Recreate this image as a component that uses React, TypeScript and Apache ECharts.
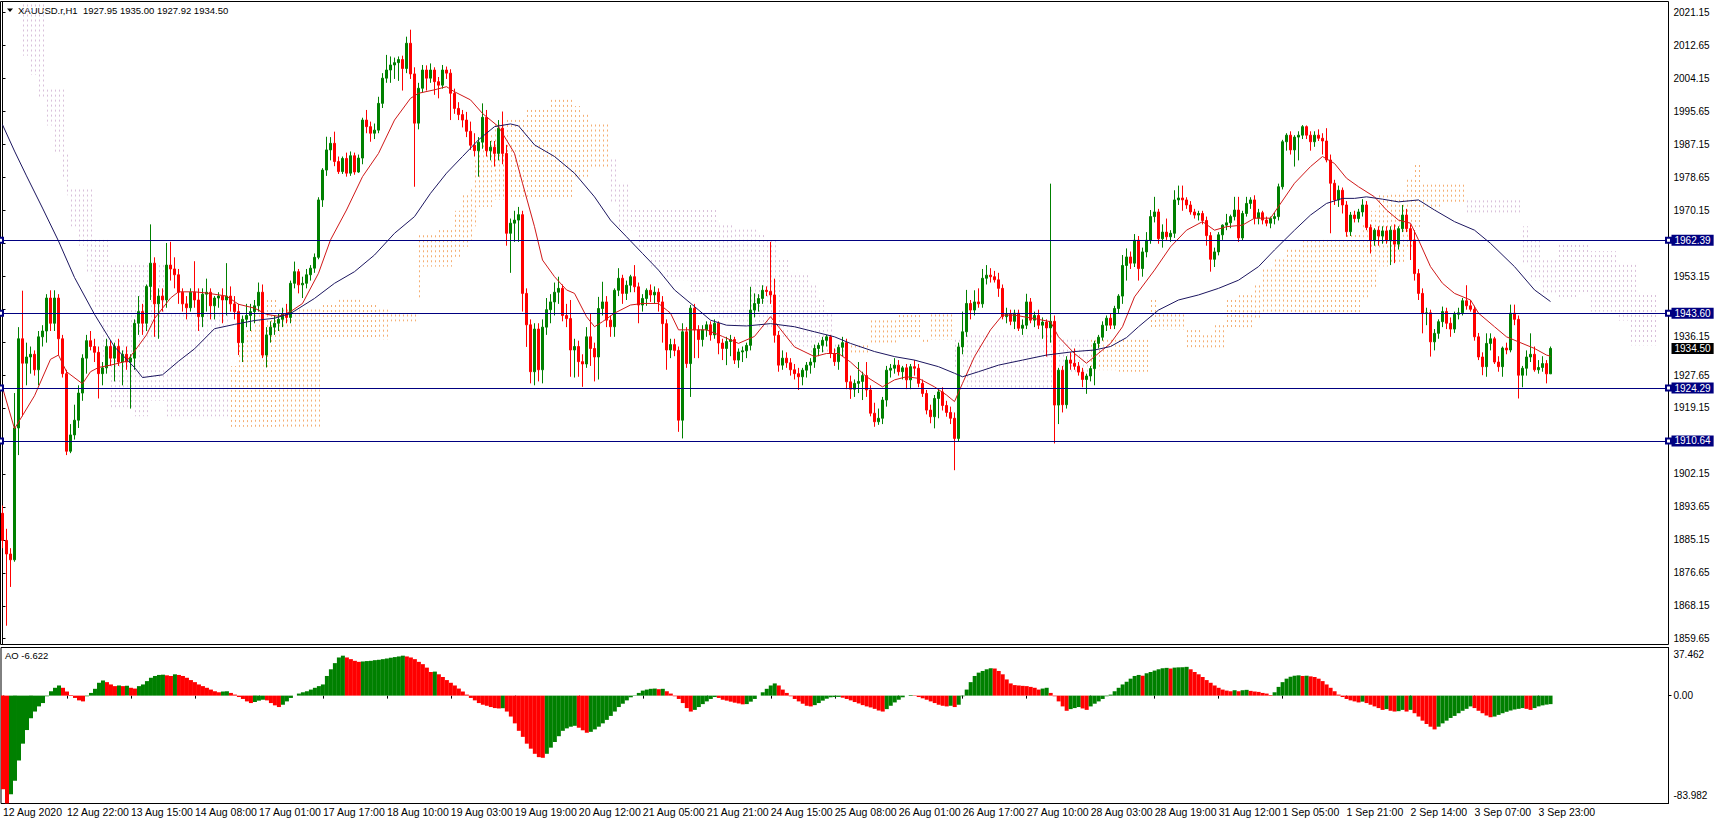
import React, { useEffect, useRef } from 'react';
import * as echarts from 'echarts';

const FONT = '"Liberation Sans", Arial, sans-serif';

// time labels, one every 16 bars
const timeLabels = ['12 Aug 2020','12 Aug 22:00','13 Aug 15:00','14 Aug 08:00','17 Aug 01:00','17 Aug 17:00','18 Aug 10:00','19 Aug 03:00','19 Aug 19:00','20 Aug 12:00','21 Aug 05:00','21 Aug 21:00','24 Aug 15:00','25 Aug 08:00','26 Aug 01:00','26 Aug 17:00','27 Aug 10:00','28 Aug 03:00','28 Aug 19:00','31 Aug 12:00','1 Sep 05:00','1 Sep 21:00','2 Sep 14:00','3 Sep 07:00','3 Sep 23:00'];

// price scale ticks; labels hidden under the level tags in the reference are ticks only
const priceTicks = [2021.15,2012.65,2004.15,1995.65,1987.15,1978.65,1970.15,1961.65,1953.15,1944.65,1936.15,1927.65,1919.15,1910.65,1902.15,1893.65,1885.15,1876.65,1868.15,1859.65];
const priceLabels = [2021.15,2012.65,2004.15,1995.65,1987.15,1978.65,1970.15,1953.15,1936.15,1927.65,1919.15,1902.15,1893.65,1885.15,1876.65,1868.15,1859.65];
const aoTicks = [37.462, 0, -83.982];
const levels = [1962.39, 1943.60, 1924.29, 1910.64];
const lastPrice = 1934.50;

// candles: [open, high, low, close]
const ohlc = [
[1892,1894,1883,1885],[1885,1888,1863,1881.5],[1881.5,1883,1873,1880],[1880,1923,1879.5,1914],
[1914,1940,1907,1937],[1937,1949.4,1917,1930.7],[1930.7,1936,1925,1932.3],[1932.3,1935,1928,1933],
[1933,1934,1927.5,1929],[1929,1939,1925,1937.5],[1937.5,1940.5,1935,1939],[1939,1948.5,1936,1947.5],
[1947.5,1949.5,1939,1941],[1941,1949.5,1939,1947.5],[1947.5,1948.5,1932.8,1937],[1937,1938,1927,1928],
[1928,1929,1907,1908],[1908,1915,1907.5,1912.2],[1912.2,1920,1911,1916],[1916,1925,1914,1923],
[1923,1933,1921,1932],[1932,1938,1928,1936.5],[1936.5,1939,1934,1935],[1935,1937,1931,1933.5],
[1933.5,1935,1921.6,1928],[1928,1931,1925,1929.5],[1929.5,1937,1928,1935],[1935,1936.5,1930,1932],
[1932,1936,1926,1935],[1935,1937,1930,1931],[1931,1934,1925,1933],[1933,1935,1929,1931],
[1931,1933,1919,1932],[1932,1942,1929,1941],[1941,1948,1938,1944],[1944,1946,1938,1941],
[1941,1951,1939,1950.5],[1950.5,1966.5,1947,1956.5],[1956.5,1958,1937.5,1946],[1946,1950,1937,1948],
[1948,1950,1944,1947],[1947,1961.7,1945,1956],[1956,1962,1952,1955],[1955,1958,1950,1953.5],
[1953.5,1955,1946,1949],[1949,1950,1944,1946],[1946,1948,1942,1945],[1945,1950,1944,1949],
[1949,1957,1945,1947],[1947,1950,1939,1942.7],[1942.7,1950,1940,1948.5],[1948.5,1952.5,1944,1949],
[1949,1950,1942,1945.5],[1945.5,1948,1942,1947.5],[1947.5,1949,1945,1948],[1948,1950,1941,1947],
[1947,1956.5,1943,1948],[1948,1950.5,1944,1946],[1946,1948,1942,1944],[1944,1946,1932.8,1936],
[1936,1943,1931,1942],[1942,1946,1940,1943],[1943,1946,1939,1944],[1944,1947,1941,1945.5],
[1945.5,1951.5,1944,1949],[1949,1951,1932,1932.8],[1932.8,1940,1929.6,1938],[1938,1941.5,1936,1940],
[1940,1943,1938,1941],[1941,1943.5,1939,1942],[1942,1945,1940,1943.5],[1943.5,1946,1941,1942.5],
[1942.5,1952,1941,1951.3],[1951.3,1956.9,1950,1954.3],[1954.3,1955,1948.7,1950.9],[1950.9,1953,1947.5,1951.3],
[1951.3,1955,1950,1953.5],[1953.5,1956,1952,1955.2],[1955.2,1959,1954,1958],[1958,1973.5,1957.5,1972.8],
[1972.8,1981,1971,1980.5],[1980.5,1989.1,1979,1985.7],[1985.7,1989,1983,1987.4],[1987.4,1990.4,1981.5,1982.7],
[1982.7,1984,1979.5,1980.1],[1980.1,1984,1979.5,1983.5],[1983.5,1985,1978.8,1979.7],[1979.7,1985.3,1979,1984.2],
[1984.2,1985,1979.3,1980],[1980,1984.5,1979.8,1983.6],[1983.6,1994,1982,1993.4],[1993.4,1996,1990,1991.7],
[1991.7,1993,1987.8,1990],[1990,1992.5,1988.5,1990.8],[1990.8,1999.4,1990,1997.7],[1997.7,2005.5,1996.5,2004.2],
[2004.2,2010.2,2003,2006.3],[2006.3,2009.8,2003,2007.6],[2007.6,2009.5,2004,2008.2],[2008.2,2009.8,2003.5,2009],
[2009,2010,2001,2006.7],[2006.7,2014.9,2005.5,2013.2],[2013.2,2016.7,2004,2005.3],[2005.3,2007,1976.2,1992.6],
[1992.6,2003,1991,2001.6],[2001.6,2007.6,2000.5,2006.3],[2006.3,2007.5,2001,2004.2],[2004.2,2008,2003,2006.3],
[2006.3,2007,1999.9,2003.3],[2003.3,2004.5,1999,2002.4],[2002.4,2007.6,2001.5,2006.3],[2006.3,2007.2,2004,2005.5],
[2005.5,2006.5,1993.4,2000.3],[2000.3,2001.5,1995,1996.4],[1996.4,1998,1993.4,1994.8],[1994.8,1996,1991.5,1993.4],
[1993.4,1995.5,1989,1990.5],[1990.5,1993,1985.7,1986.9],[1986.9,1990,1984,1985.5],[1985.5,1989,1978.8,1987.7],
[1987.7,1997.7,1986,1994.1],[1994.1,1996,1984,1985.5],[1985.5,1988,1983,1986.4],[1986.4,1988,1981.4,1984.8],
[1984.8,1993.4,1983,1991.3],[1991.3,1995.6,1982,1984.8],[1984.8,1987,1961,1964.2],[1964.2,1968,1954,1966.8],
[1966.8,1970,1962,1967.6],[1967.6,1971,1962,1969],[1969,1970,1944,1948.7],[1948.7,1950,1934.9,1940.6],
[1940.6,1942,1925.5,1928.5],[1928.5,1941,1925,1939.5],[1939.5,1941,1926,1929],[1929,1942,1925.5,1940],
[1940,1947.5,1938,1944.5],[1944.5,1948.5,1941,1946.5],[1946.5,1951.5,1943,1949],[1949,1953,1946,1950],
[1950,1951,1941.5,1943],[1943,1946,1940,1942.2],[1942.2,1947,1927.2,1934.1],[1934.1,1937,1927,1935],
[1935,1936.5,1927.2,1931.1],[1931.1,1933,1924.6,1930.5],[1930.5,1940,1929.5,1937.5],[1937.5,1943.5,1930,1934.5],
[1934.5,1936,1926,1932.3],[1932.3,1947.8,1926.5,1944.8],[1944.8,1951.7,1943,1946.5],[1946.5,1948,1940,1941.8],
[1941.8,1943,1937.5,1940.1],[1940.1,1950,1937.5,1949.5],[1949.5,1955.2,1948,1952.6],[1952.6,1953.5,1946,1948.7],
[1948.7,1952,1947,1950.8],[1950.8,1953.5,1949,1953],[1953,1956,1949,1950.4],[1950.4,1951.5,1941,1945.7],
[1945.7,1948.5,1944,1947.4],[1947.4,1950,1945.5,1949.5],[1949.5,1951,1946.5,1948.3],[1948.3,1950.5,1946,1949],
[1949,1950,1944,1946.5],[1946.5,1948,1936,1940.9],[1940.9,1942,1929,1934.1],[1934.1,1937,1932,1935.5],
[1935.5,1937,1932.5,1934],[1934,1935,1913,1916],[1916,1941,1911.3,1938.8],[1938.8,1940,1929.5,1930.6],
[1930.6,1945.7,1922,1944.9],[1944.9,1946,1932,1939.3],[1939.3,1940.5,1932,1936.8],[1936.8,1940.5,1935,1939.3],
[1939.3,1941.5,1937.5,1940.6],[1940.6,1941.5,1936.5,1938],[1938,1942,1937,1941],[1941,1941.5,1933,1935.9],
[1935.9,1937,1931.5,1934.5],[1934.5,1937.5,1930.2,1936.3],[1936.3,1938,1932.5,1936.8],[1936.8,1937.5,1930.5,1931.5],
[1931.5,1934.5,1929.5,1933.6],[1933.6,1935,1931,1933.9],[1933.9,1936,1932,1935.3],[1935.3,1950.4,1934,1944.4],
[1944.4,1948.7,1942.5,1946.1],[1946.1,1948.5,1944,1947.4],[1947.4,1950.8,1946,1949.5],[1949.5,1950.5,1948,1949.2],
[1949.2,1962,1946,1948.3],[1948.3,1952.5,1936,1937.9],[1937.9,1939,1928.5,1930.2],[1930.2,1934,1929,1932],
[1932,1933.5,1929.5,1930.8],[1930.8,1932,1927.5,1929],[1929,1930.5,1926.5,1928],[1928,1929.5,1923.8,1927.2],
[1927.2,1929.5,1925,1928.9],[1928.9,1931,1927,1930.2],[1930.2,1932,1928,1931],[1931,1935.5,1929.5,1934.5],
[1934.5,1936,1932.5,1935.3],[1935.3,1937.5,1933.5,1936.6],[1936.6,1938,1935,1937.5],[1937.5,1938,1932,1933.2],
[1933.2,1934.5,1930,1931.1],[1931.1,1935.5,1929,1934.8],[1934.8,1937.5,1932.5,1936],[1936,1937,1924,1925.9],
[1925.9,1927.5,1921.5,1924],[1924,1926.5,1922,1925.5],[1925.5,1931,1923,1926],[1926,1928.5,1921.2,1927.5],
[1927.5,1931,1922,1923.8],[1923.8,1925,1917,1917.8],[1917.8,1920.5,1914.3,1915.6],[1915.6,1919,1914.8,1916.5],
[1916.5,1922,1915,1921.2],[1921.2,1930,1919.5,1928.9],[1928.9,1930.5,1927,1929.4],[1929.4,1932,1928,1930.2],
[1930.2,1931.5,1927.5,1928.5],[1928.5,1930,1926.5,1929.5],[1929.5,1930.5,1924,1926.4],[1926.4,1930.5,1924,1929.8],
[1929.8,1931.5,1927.5,1929.4],[1929.4,1930.5,1924.5,1925.5],[1925.5,1926.5,1922,1922.9],[1922.9,1923.8,1917.5,1918.6],
[1918.6,1920,1915.2,1916.9],[1916.9,1922.5,1913.9,1921.6],[1921.6,1924,1916.5,1923.3],[1923.3,1924.5,1918.5,1919.8],
[1919.8,1921,1916.9,1918],[1918,1919.5,1915,1916.5],[1916.5,1918,1903.1,1911.3],[1911.3,1936,1910.4,1934.9],
[1934.9,1944,1933,1938.8],[1938.8,1949.6,1937.5,1946.1],[1946.1,1947,1942,1944.4],[1944.4,1949.5,1943,1946.5],
[1946.5,1950,1945,1946],[1946,1955,1945,1952.6],[1952.6,1956,1951,1953.4],[1953.4,1955.2,1951.5,1953],
[1953,1954.5,1951.5,1952.2],[1952.2,1954,1947.8,1950],[1950,1951,1942,1942.7],[1942.7,1945,1941,1943.3],
[1943.3,1944.5,1940.5,1941.5],[1941.5,1944.5,1939.5,1943.6],[1943.6,1944.5,1939,1939.7],[1939.7,1942,1938,1940.5],
[1940.5,1948.6,1939.5,1946.5],[1946.5,1947.5,1941,1941.8],[1941.8,1944,1940,1943],[1943,1944.5,1939.5,1940.5],
[1940.5,1942.5,1937,1941.3],[1941.3,1942,1932.4,1939.8],[1939.8,1977,1936,1941.5],[1941.5,1943,1910,1919.9],
[1919.9,1929.5,1915,1928.9],[1928.9,1930,1918,1920],[1920,1932.5,1919,1931.5],[1931.5,1933.5,1929,1930.7],
[1930.7,1934.5,1929,1929.9],[1929.9,1931,1927.5,1928.4],[1928.4,1929.5,1924.5,1926.5],[1926.5,1928,1922.8,1927.4],
[1927.4,1930,1926,1929.3],[1929.3,1936.5,1925,1935.8],[1935.8,1938,1934.5,1937.4],[1937.4,1941.5,1936.5,1940.5],
[1940.5,1943,1939,1942.3],[1942.3,1943.5,1939.5,1940.5],[1940.5,1945.5,1939.5,1944.8],[1944.8,1948.5,1943.5,1948],
[1948,1958.6,1946,1955.9],[1955.9,1960.3,1952,1958.1],[1958.1,1959.5,1955,1956.5],[1956.5,1964,1955.5,1962.4],
[1962.4,1963.5,1952,1955.1],[1955.1,1960.5,1953,1959.4],[1959.4,1964.5,1958,1962.4],[1962.4,1970.2,1961.5,1968.5],
[1968.5,1973.6,1967,1969.7],[1969.7,1970.5,1961.5,1962.8],[1962.8,1966.5,1960.5,1964.5],[1964.5,1968,1962.5,1963.3],
[1963.3,1965,1962,1964.2],[1964.2,1975.3,1963,1972.8],[1972.8,1976.5,1971.5,1973.3],[1973.3,1976.5,1970,1972.8],
[1972.8,1973.5,1970.5,1971.5],[1971.5,1972.5,1969,1969.7],[1969.7,1970.5,1968,1968.9],[1968.9,1970,1967.5,1969.3],
[1969.3,1970,1966.5,1967.5],[1967.5,1968.5,1961,1963.6],[1963.6,1964.5,1954.3,1957.5],[1957.5,1960.5,1955.5,1959.4],
[1959.4,1964.5,1958.5,1963.8],[1963.8,1966.5,1962.5,1966.3],[1966.3,1969.2,1965,1966.9],[1966.9,1969,1965.5,1968.5],
[1968.5,1973.6,1967.5,1970.2],[1970.2,1973.6,1962,1963],[1963,1970,1962.3,1969.3],[1969.3,1973.6,1968.5,1971.9],
[1971.9,1973.5,1970.5,1972.8],[1972.8,1974,1966.5,1968.1],[1968.1,1970.5,1966.5,1969.5],[1969.5,1970,1966.5,1967.6],
[1967.6,1968.5,1966,1966.8],[1966.8,1968.5,1965.5,1968],[1968,1969.5,1966.5,1968.5],[1968.5,1977,1967.5,1976.2],
[1976.2,1988.3,1975.5,1987.8],[1987.8,1990,1985.5,1989.5],[1989.5,1990.5,1984.5,1985.7],[1985.7,1989.5,1981.4,1989],
[1989,1990.5,1983,1989.5],[1989.5,1992.1,1988.5,1991.7],[1991.7,1992,1988.5,1989.5],[1989.5,1990.5,1985.5,1987.8],
[1987.8,1990.5,1986.5,1989.5],[1989.5,1991,1988,1988.7],[1988.7,1990,1984.5,1988],[1988,1991.3,1982.5,1983.1],
[1983.1,1984.5,1964.2,1977.1],[1977.1,1978,1971.5,1972.8],[1972.8,1976.5,1971,1975.3],[1975.3,1976,1969.3,1971.5],
[1971.5,1972.5,1963.3,1964.6],[1964.6,1969.7,1963.5,1968.9],[1968.9,1970,1967,1968],[1968,1970.5,1967,1969.7],
[1969.7,1973,1968.5,1971.5],[1971.5,1972.5,1965,1965.7],[1965.7,1966.5,1959,1962.4],[1962.4,1965.5,1961,1965],
[1965,1966,1961,1963.5],[1963.5,1966,1961.5,1964.8],[1964.8,1966,1961.5,1962.4],[1962.4,1966,1956,1965],
[1965,1966.5,1956.5,1961.4],[1961.4,1966,1960,1965.4],[1965.4,1971.5,1964.5,1968.9],[1968.9,1970.5,1964.5,1965.4],
[1965.4,1966.5,1957.3,1962.5],[1962.5,1965,1952,1953.8],[1953.8,1955,1947,1948.7],[1948.7,1950,1938.4,1943.5],
[1943.5,1945,1940.5,1943.7],[1943.7,1944.5,1932.4,1936.2],[1936.2,1939.5,1934,1938.4],[1938.4,1942,1937,1941.4],
[1941.4,1945.3,1940,1944],[1944,1945,1939.5,1941],[1941,1942.5,1937.5,1939.5],[1939.5,1944,1938.5,1943.3],
[1943.3,1945,1942,1943.7],[1943.7,1947.5,1943,1946.8],[1946.8,1950.8,1944.5,1945.5],[1945.5,1947,1944,1944.6],
[1944.6,1945.5,1936.5,1937.5],[1937.5,1938.5,1931.5,1932.3],[1932.3,1933.5,1927.6,1929.8],[1929.8,1938.4,1927.2,1935.8],
[1935.8,1938.4,1934,1937],[1937,1937.5,1930.5,1931],[1931,1932.5,1928.5,1929.8],[1929.8,1935,1927.2,1934.6],
[1934.6,1936,1933,1934.1],[1934.1,1945.8,1933.5,1943.6],[1943.6,1945.8,1940.5,1942],[1942,1943,1921.6,1927.6],
[1927.6,1930,1924.5,1929.4],[1929.4,1934,1927.5,1932.3],[1932.3,1938.4,1931,1933],[1933,1935,1928.5,1929],
[1929,1931.5,1928,1929.6],[1929.6,1932.5,1928.5,1930.6],[1930.6,1931.5,1925.5,1927.95],[1927.95,1935.0,1927.92,1934.5]
];

// Awesome Oscillator, one value per candle
const aoValues = [
-72.9,-83.9,-76.8,-66.3,-50.5,-37.4,-26.8,-17.6,-12.4,-8.4,-5.8,-0.5,3.4,6.1,7.9,6.1,
3.2,0.5,-1.8,-3.7,-4.5,-0.5,2.1,5.3,10.0,11.8,10.5,8.7,7.4,7.9,7.4,7.6,
6.1,5.5,7.4,8.7,11.3,13.9,15.3,16.1,16.3,15.8,15.3,16.6,16.1,15.3,13.9,12.1,
10.5,8.7,7.4,6.1,4.7,3.4,2.6,3.2,3.4,2.1,0.8,-1.1,-2.6,-4.5,-5.8,-5.0,
-3.9,-3.2,-3.7,-5.8,-7.6,-8.9,-7.1,-4.5,-1.8,0,1.6,2.6,3.4,4.7,6.1,7.4,
8.7,15.3,20.5,25.3,29.7,31.1,29.7,28.4,27.1,26.3,26.6,26.9,27.1,27.6,27.9,28.4,
28.9,29.5,30.0,30.5,31.1,30.5,29.7,28.4,26.3,24.5,21.8,18.4,18.7,16.6,14.5,12.1,
10.0,7.9,5.5,3.2,0.8,-1.8,-3.7,-5.8,-7.1,-7.9,-8.9,-9.7,-10.0,-9.8,-12.4,-16.3,
-21.6,-27.4,-32.1,-37.4,-41.3,-45.3,-47.9,-48.4,-45.3,-40.5,-36.1,-31.6,-27.4,-25.5,-24.2,-23.5,
-25.0,-27.0,-28.9,-28.2,-26.3,-24.2,-21.6,-18.9,-15.8,-12.4,-8.9,-6.3,-3.7,-1.3,0.3,2.1,
3.9,4.7,5.3,5.5,5.0,5.3,3.4,1.6,-0.5,-2.6,-5.8,-9.7,-12.4,-11.1,-8.9,-6.6,
-4.5,-2.6,-1.1,-1.8,-3.2,-3.9,-4.7,-5.5,-6.1,-6.8,-6.6,-4.7,-2.6,0,2.6,5.3,
7.9,9.5,7.9,4.7,2.1,-0.5,-2.6,-4.5,-6.3,-7.9,-8.4,-7.4,-5.8,-3.9,-2.4,-1.3,
-1.1,-1.0,-1.6,-2.6,-3.7,-5.0,-6.1,-7.4,-8.4,-9.2,-10.3,-11.6,-12.4,-10.5,-7.9,-5.3,
-3.2,-1.3,0,0.5,0.3,-1.1,-2.1,-3.2,-4.5,-5.8,-7.1,-7.9,-8.4,-7.9,-8.9,-7.1,
-0.5,4.7,10.5,15.3,17.9,19.2,20.5,21.3,21.1,19.2,16.6,12.6,9.5,8.2,7.9,7.6,
7.4,6.8,6.1,4.7,5.5,6.1,2.1,-0.5,-4.5,-8.4,-11.8,-10.5,-9.7,-8.9,-10.0,-11.1,
-8.4,-6.3,-4.5,-2.6,-0.5,0.8,3.4,6.1,8.7,10.8,13.2,15.3,16.1,15.5,17.4,18.4,
19.5,20.5,21.3,21.6,21.1,21.8,22.0,22.1,22.4,20.5,18.4,16.6,14.5,12.1,10.0,7.9,
6.1,4.7,3.9,3.4,4.2,3.4,4.2,4.5,3.7,3.2,2.9,2.1,1.6,0.5,2.6,6.8,
10.5,13.2,14.7,15.5,15.8,15.3,15.5,15.0,14.5,13.2,11.3,8.7,6.1,3.4,0.8,-1.1,
-2.6,-3.7,-4.5,-5.3,-4.7,-5.8,-7.1,-8.4,-9.7,-11.1,-10.5,-11.8,-12.4,-12.1,-11.1,-12.4,
-11.1,-13.7,-16.3,-19.5,-22.1,-24.2,-26.3,-24.2,-21.6,-19.5,-17.4,-15.8,-13.7,-11.8,-10.3,-8.4,
-9.7,-11.8,-13.7,-15.5,-16.8,-16.3,-15.0,-13.7,-12.6,-11.6,-10.8,-10.3,-9.7,-10.3,-11.1,-9.7,
-8.4,-7.6,-7.0,-6.622
];

// fast moving average (red), read at points: [bar, price]
const fastMA = [
[0,1924.4],[3,1913.8],[8,1922.3],[12,1931.7],[14,1932.8],[16,1928.5],[20,1925.4],[22,1928.5],[24,1929.6],[27,1930.2],
[31,1931.2],[33,1933.8],[36,1938],[38,1942.2],[42,1947.5],[44,1949.1],[48,1949.1],[51,1948.8],[56,1948],[59,1945.9],
[63,1944.9],[66,1943.3],[69,1942.8],[72,1944],[75,1946.1],[79,1953.9],[82,1962.5],[86,1970.2],[90,1978.8],[94,1984.8],
[98,1993.4],[102,1999],[104,2000.3],[108,2001.2],[111,2002],[113,2000.7],[117,1998.6],[120,1995.1],[124,1991.7],[128,1984.8],
[130,1977.1],[133,1965.9],[135,1957.3],[138,1953],[141,1949.6],[143,1948.7],[146,1942.7],[148,1940.1],[150,1941.4],[153,1943.6],
[157,1945.7],[160,1946.1],[164,1946.1],[167,1943.6],[169,1939.3],[173,1939.3],[176,1939.3],[180,1937.6],[184,1935.8],[188,1937.6],
[192,1942.7],[194,1940.1],[198,1934.9],[203,1932.4],[206,1933.2],[209,1933.2],[212,1931],[216,1927.2],[220,1924.6],[223,1926.4],
[226,1927.2],[229,1926.8],[233,1924.6],[236,1922.5],[238,1920.8],[240,1925.5],[243,1932.4],[247,1939.3],[250,1943.1],[253,1943.1],
[258,1942.2],[262,1941.4],[264,1937.5],[268,1933.2],[271,1930.7],[273,1932.4],[277,1935.8],[280,1940.1],[283,1947.8],[288,1954.7],
[292,1960.7],[296,1965],[300,1967.2],[303,1965],[306,1965.9],[310,1966.3],[313,1968.1],[317,1968.1],[319,1971.1],[323,1977.1],
[327,1981.4],[330,1984],[333,1982.2],[336,1978.4],[339,1976.2],[343,1973.6],[346,1970.2],[349,1967.6],[352,1966.8],[354,1962.5],
[357,1955.6],[360,1951.3],[363,1948.7],[367,1947],[369,1943.6],[373,1940.1],[376,1937.5],[379,1936.2],[383,1934.5],[386,1932.8],[387,1932.5]
];

// slow moving average (dark blue), read at points: [bar, price]
const slowMA = [
[0,1992.2],[3,1985.4],[6,1979],[10,1970.7],[14,1962.2],[18,1952.8],[23,1943.3],[28,1934.9],[33,1929.6],[35,1927],
[40,1927.7],[44,1931.2],[48,1934.4],[53,1939.6],[58,1940.7],[63,1941.7],[68,1942.3],[72,1943.5],[78,1947.4],[83,1951.3],
[88,1954.3],[93,1958.6],[98,1964.2],[103,1968.5],[107,1974.5],[111,1979.7],[115,1984],[119,1988.3],[123,1991.7],[127,1992.4],
[129,1991.9],[133,1987],[138,1984],[143,1979.7],[148,1973.6],[152,1967.6],[156,1963.3],[160,1959],[164,1954.7],[168,1949.6],
[173,1945.3],[177,1941.8],[181,1940.5],[186,1940.3],[192,1940.9],[198,1940.1],[203,1938.8],[208,1937.5],[212,1935.8],[218,1933.7],
[223,1932.4],[228,1931.5],[234,1929.8],[238,1928.1],[240,1927.2],[244,1928.5],[249,1930.2],[255,1931.5],[261,1932.8],[268,1933.7],
[273,1934.1],[277,1935],[281,1937.3],[284,1940.1],[289,1944.4],[294,1947],[299,1948.3],[304,1950],[309,1952.1],[314,1955.6],
[318,1959.9],[323,1965],[327,1968.9],[331,1971.9],[335,1973.2],[338,1973.2],[341,1973.6],[345,1973],[349,1972.3],[354,1972.8],
[358,1970.2],[363,1967.2],[368,1965],[372,1961.6],[378,1955.6],[383,1949.6],[387,1946.6]
];

// Ichimoku cloud, step segments: [startBar, senkouA, senkouB]
const cloudSegments = [
[0,2030,2040],[5,2010,2035],[7,2005,2035],[9,1999,2035],[11,1992,2001.5],[13,1985,2001.5],[15,1978,2001.5],
[16,1974,1985],[17,1966,1976],[19,1961,1976],[21,1954,1976],[23,1945,1962.5],[25,1932,1962.5],[27,1919,1956.5],
[33,1917,1956.5],[37,1921,1956.5],[41,1917,1944],[57,1930,1914.3],[59,1940,1914.3],[63,1945,1914.3],[66,1947,1914.3],
[69,1945.3,1914.3],[80,1945.7,1936.7],[84,1947.8,1936.7],[90,1945.7,1936.7],[94,1944.5,1936.7],[97,1943.5,1941.5],
[104,1964.2,1947],[105,1964.2,1955.6],[109,1965,1955.6],[113,1970,1958],[115,1974.5,1960.7],[117,1976,1962.4],
[118,1983,1966],[119,1987.4,1971],[121,1990,1971],[123,1992.5,1972.8],[126,1994.2,1972.8],[131,1996,1972.8],
[137,1998.6,1972.8],[143,1997,1978.8],[145,1995,1978.8],[147,1992.5,1981.4],[152,1972,1984],[154,1965,1977],
[157,1965,1970.2],[159,1959.9,1970.2],[162,1955.6,1970.2],[166,1952.1,1970.2],[172,1948.7,1970.2],[177,1943.5,1970.2],
[179,1941.8,1966.5],[183,1940.5,1965.9],[189,1940,1964],[191,1940,1962.4],[194,1937,1957.3],[197,1935,1953.9],
[202,1933.2,1951],[204,1933.2,1947],[206,1933.2,1943.5],[208,1932,1936],[211,1935.8,1933.2],[217,1942.5,1935.8],
[224,1943.1,1936.7],[230,1937.5,1935.8],[232,1943.5,1936.7],[238,1929,1937.5],[241,1924.6,1938.4],[252,1924.2,1938.4],
[263,1928,1937],[272,1937.5,1928.9],[279,1936.7,1928.5],[287,1947,1939.3],[289,1943.5,1939.3],[296,1940,1934.1],
[300,1938.4,1934.1],[303,1941,1934.1],[306,1947,1939.3],[309,1949,1940],[313,1951,1942],[315,1955.6,1943.5],
[318,1958.2,1943.5],[321,1960.7,1943.5],[325,1962.4,1943.5],[330,1963,1943.5],[336,1964,1943.5],[340,1966.8,1947],
[342,1970,1950.4],[344,1974.5,1955.6],[347,1974.9,1956.4],[351,1978,1960],[353,1981.8,1965],[355,1977.5,1970.2],
[360,1977.5,1971.9],[366,1969.3,1973.2],[380,1956,1966],[382,1952,1962.4],[385,1948.5,1958],[389,1947.4,1961.7],
[394,1948.7,1961.7],[397,1944,1959.6],[404,1941.7,1956.3],[407,1935.3,1956.3],[409,1935.3,1948.8]
];
const CLOUD_LAST_BAR = 413;
const SLOTS = 417;
const LABEL_EVERY = 16;

export default function App() {
  const ref = useRef<HTMLDivElement>(null);

  useEffect(() => {
    const chart = echarts.init(ref.current as HTMLDivElement, null, { renderer: 'svg' });

    const cats = Array.from({ length: SLOTS }, (_, i) => String(i));
    const candleData = ohlc.map(([o, h, l, c]) => [o, c, l, h]);

    const cloudData: number[][] = [];
    let s = 0;
    for (let i = 0; i <= CLOUD_LAST_BAR; i++) {
      while (s + 1 < cloudSegments.length && cloudSegments[s + 1][0] <= i) s++;
      cloudData.push([i, cloudSegments[s][1], cloudSegments[s][2]]);
    }

    const aoData = aoValues.map((v, i) => ({
      value: v,
      itemStyle: { color: i > 0 && v > aoValues[i - 1] ? '#008000' : '#ff0000' },
    }));

    const tagLabel = (bg: string) => ({
      show: true, position: 'end', distance: 3,
      formatter: (p: any) => Number(p.value).toFixed(2),
      backgroundColor: bg, color: '#fff', padding: [1, 3, 0, 3], fontSize: 10, fontFamily: FONT,
    });

    // the tick label just above the bid tag is lifted a little so both stay readable
    const priceLabelFormatter = (v: number) => {
      const t = v.toFixed(2);
      return Math.abs(v - lastPrice) < 3 ? '{u|' + t + '}' : t;
    };

    const hasTimeLabel = (idx: number) => idx % LABEL_EVERY === 0 && idx / LABEL_EVERY < timeLabels.length;

    const option: any = {
      animation: false,
      backgroundColor: '#ffffff',
      textStyle: { fontFamily: FONT },
      grid: [
        { left: 0.5, top: 1.5, width: 1668, height: 643, show: true, borderColor: '#000', borderWidth: 1, backgroundColor: 'transparent' },
        { left: 0.5, top: 647.5, width: 1668, height: 156, show: true, borderColor: '#000', borderWidth: 1, backgroundColor: 'transparent' },
      ],
      xAxis: [
        { type: 'category', gridIndex: 0, data: cats, boundaryGap: true, show: false },
        {
          type: 'category', gridIndex: 1, data: cats, boundaryGap: true,
          axisLine: { show: false },
          axisTick: { show: true, interval: (idx: number) => hasTimeLabel(idx), length: 3, alignWithLabel: true, lineStyle: { color: '#000' } },
          axisLabel: {
            interval: (idx: number) => hasTimeLabel(idx), align: 'left', margin: 3, fontSize: 10.5, color: '#000', fontFamily: FONT,
            formatter: (_v: string, idx: number) => hasTimeLabel(idx) ? timeLabels[idx / LABEL_EVERY] : '',
          },
          splitLine: { show: false },
        },
        { type: 'value', gridIndex: 0, min: -0.5, max: SLOTS - 0.5, show: false },
      ],
      yAxis: [
        {
          type: 'value', gridIndex: 0, position: 'right', min: 1858.16, max: 2023.97,
          axisLine: { show: true, lineStyle: { color: '#000' } },
          axisTick: { show: true, length: 3, customValues: priceTicks, lineStyle: { color: '#000' } },
          axisLabel: {
            customValues: priceLabels, formatter: priceLabelFormatter, fontSize: 10, color: '#000', margin: 5, fontFamily: FONT,
            rich: { u: { padding: [0, 0, 11, 0], fontSize: 10, color: '#000', fontFamily: FONT } },
          },
          splitLine: { show: false },
        },
        {
          type: 'value', gridIndex: 1, position: 'right', min: -83.982, max: 37.462,
          axisLine: { show: true, lineStyle: { color: '#000' } },
          axisTick: { show: true, length: 3, customValues: [0], lineStyle: { color: '#000' } },
          axisLabel: {
            customValues: aoTicks, fontSize: 10, color: '#000', margin: 5, fontFamily: FONT,
            formatter: (v: number) => v > 0 ? '{t|' + v.toFixed(3) + '}' : v < 0 ? '{b|' + v.toFixed(3) + '}' : '0.00',
            rich: {
              t: { padding: [14, 0, 0, 0], fontSize: 10, color: '#000', fontFamily: FONT },
              b: { padding: [0, 0, 16, 0], fontSize: 10, color: '#000', fontFamily: FONT },
            },
          },
          splitLine: { show: false },
        },
      ],
      graphic: [
        { type: 'polygon', shape: { points: [[7, 8.5], [13, 8.5], [10, 12]] }, style: { fill: '#000' }, silent: true },
        { type: 'text', x: 18, y: 10, style: { text: 'XAUUSD.r,H1  1927.95 1935.00 1927.92 1934.50', fill: '#000', font: '9.5px ' + FONT, verticalAlign: 'middle' }, silent: true },
        { type: 'text', x: 5, y: 655, style: { text: 'AO -6.622', fill: '#000', font: '9.5px ' + FONT, verticalAlign: 'middle' }, silent: true },
      ],
      series: [
        {
          type: 'custom', name: 'cloud', xAxisIndex: 2, yAxisIndex: 0, data: cloudData, clip: true, silent: true, z: 1,
          encode: { x: 0, y: [1, 2] },
          renderItem: (params: any, api: any) => {
            const i = api.value(0), a = api.value(1), b = api.value(2);
            const pa = api.coord([i, a]);
            const pb = api.coord([i, b]);
            const cs = params.coordSys;
            const y1 = Math.max(Math.min(pa[1], pb[1]), cs.y);
            const y2 = Math.min(Math.max(pa[1], pb[1]), cs.y + cs.height);
            if (y2 - y1 < 1) return null;
            const x = Math.round(pa[0]) + 0.5;
            return {
              type: 'line',
              shape: { x1: x, y1: y1, x2: x, y2: y2 },
              style: { stroke: a > b ? '#f5ae72' : '#d9c0da', lineWidth: 1, lineDash: [2, 3], lineDashOffset: y1 % 5 },
            };
          },
        },
        {
          type: 'candlestick', xAxisIndex: 0, yAxisIndex: 0, data: candleData, barWidth: 2, z: 3,
          itemStyle: { color: '#008000', color0: '#ff0000', borderColor: '#008000', borderColor0: '#ff0000', borderWidth: 1 },
          markLine: {
            silent: true, animation: false,
            symbol: ['emptyRect', 'emptyRect'], symbolSize: 5,
            lineStyle: { color: '#000080', width: 1, type: 'solid' },
            label: tagLabel('#000080'),
            emphasis: { disabled: true },
            data: levels.map((v) => ({ yAxis: v })),
          },
        },
        {
          type: 'line', name: 'fastMA', xAxisIndex: 2, yAxisIndex: 0, data: fastMA, showSymbol: false, z: 4,
          lineStyle: { color: '#d01818', width: 1 }, silent: true,
        },
        {
          type: 'line', name: 'slowMA', xAxisIndex: 2, yAxisIndex: 0, data: slowMA, showSymbol: false, z: 4,
          lineStyle: { color: '#1c1660', width: 1 }, silent: true,
        },
        {
          type: 'line', name: 'bid', xAxisIndex: 2, yAxisIndex: 0, data: [], showSymbol: false, z: 5, silent: true,
          markLine: {
            silent: true, animation: false, symbol: ['none', 'none'], symbolSize: 0,
            lineStyle: { color: 'rgba(0,0,0,0)', width: 0 },
            label: tagLabel('#000000'),
            emphasis: { disabled: true },
            data: [{ yAxis: lastPrice }],
          },
        },
        {
          type: 'bar', name: 'AO', xAxisIndex: 1, yAxisIndex: 1, data: aoData, barWidth: '100%', barGap: '0%', silent: true,
        },
      ],
    };

    chart.setOption(option);
    return () => chart.dispose();
  }, []);

  return <div ref={ref} style={{ position: 'fixed', left: 0, top: 0, width: 1716, height: 821, background: '#fff' }} />;
}
